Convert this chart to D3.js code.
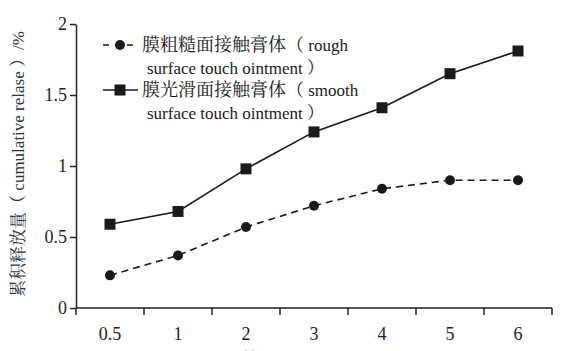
<!DOCTYPE html>
<html>
<head>
<meta charset="utf-8">
<script src="https://cdn.jsdelivr.net/npm/d3@7"></script>
<style>
  body { margin: 0; background: #fff; }
  svg { display: block; }
</style>
</head>
<body>
<svg></svg>
<script>
// categories (time points) and the two series
let categories = ['0.5', '1', '2', '3', '4', '5', '6'];
let roughValues = [0.23, 0.37, 0.57, 0.72, 0.84, 0.90, 0.90];
let smoothValues = [0.59, 0.68, 0.98, 1.24, 1.41, 1.65, 1.81];
let yTicks = [0, 0.5, 1, 1.5, 2];
let legendRough = ['膜粗糙面接触膏体（', ' rough', 'surface touch ointment ）'];
let legendSmooth = ['膜光滑面接触膏体（', ' smooth', 'surface touch ointment ）'];

let width = 568;
let height = 351;
let plotLeft = 76, plotRight = 552, plotTop = 24, plotBottom = 308;

let latin = '"Liberation Serif"';
let cjk = '"Liberation Serif", "Noto Serif CJK SC"';

let svg = d3.select('svg').attr('width', width).attr('height', height);

let xScale = d3.scaleBand().domain(categories).range([plotLeft, plotRight]);
let yScale = d3.scaleLinear().domain([0, 2]).range([plotBottom, plotTop]);

// axes
let xAxis = d3.axisBottom(xScale).tickSize(6).tickFormat('');
let gx = svg.append('g')
    .attr('transform', `translate(0, ${plotBottom})`)
    .call(xAxis);
// ticks sit on band edges, not centres
gx.selectAll('.tick').remove();
gx.attr('font-family', null).attr('font-size', null);
let edges = categories.map(c => xScale(c)).concat([plotRight]);
gx.selectAll('line.edge')
    .data(edges)
    .enter()
    .append('line')
    .attr('x1', d => d).attr('x2', d => d)
    .attr('y1', 0).attr('y2', 7)
    .attr('stroke', '#222').attr('stroke-width', 1.5);
gx.select('.domain').attr('d', `M${plotLeft},0H${plotRight}`).attr('stroke', '#222').attr('stroke-width', 1.5);
gx.selectAll('text.lab')
    .data(categories)
    .enter()
    .append('text')
    .attr('x', d => xScale(d) + xScale.bandwidth() / 2)
    .attr('y', 32)
    .attr('text-anchor', 'middle')
    .attr('fill', '#222')
    .attr('font-family', latin)
    .attr('font-size', 18)
    .text(d => d);

let yAxis = d3.axisLeft(yScale).tickValues(yTicks).tickSize(6).tickSizeOuter(0).tickPadding(3)
    .tickFormat(d => d);
let gy = svg.append('g')
    .attr('transform', `translate(${plotLeft}, 0)`)
    .call(yAxis)
    .attr('font-family', latin)
    .attr('font-size', 18);
gy.select('.domain').attr('stroke', '#222').attr('stroke-width', 1.5);
gy.selectAll('.tick line').attr('stroke', '#222').attr('stroke-width', 1.5);
gy.selectAll('.tick text').attr('fill', '#222');

// y-axis title
svg.append('text')
    .attr('transform', `translate(24, ${(plotTop + plotBottom) / 2 - 2}) rotate(-90)`)
    .attr('text-anchor', 'middle')
    .attr('fill', '#2b3440')
    .attr('font-family', cjk)
    .attr('font-size', 17)
    .text('累积释放量（ cumulative relase ）/%');

// x-axis title, mostly cut off by the frame
svg.append('text')
    .attr('x', 290)
    .attr('y', 364)
    .attr('text-anchor', 'middle')
    .attr('fill', '#222')
    .attr('font-family', cjk)
    .attr('font-size', 16)
    .text('时间（ time ）/h');

let cx = d => xScale(d) + xScale.bandwidth() / 2;

// rough series: dashed line with circles
let roughData = categories.map((c, i) => [c, roughValues[i]]);
let smoothData = categories.map((c, i) => [c, smoothValues[i]]);
let line = d3.line().x(d => cx(d[0])).y(d => yScale(d[1]));

svg.append('path')
    .datum(roughData)
    .attr('d', line)
    .attr('fill', 'none')
    .attr('stroke', '#1a1a1a')
    .attr('stroke-width', 1.6)
    .attr('stroke-dasharray', '7,5');
svg.selectAll('circle.rough')
    .data(roughData)
    .enter()
    .append('circle')
    .attr('cx', d => cx(d[0]))
    .attr('cy', d => yScale(d[1]))
    .attr('r', 5)
    .attr('fill', '#1a1a1a');

// smooth series: solid line with squares
svg.append('path')
    .datum(smoothData)
    .attr('d', line)
    .attr('fill', 'none')
    .attr('stroke', '#1a1a1a')
    .attr('stroke-width', 1.6);
svg.selectAll('rect.smooth')
    .data(smoothData)
    .enter()
    .append('rect')
    .attr('x', d => cx(d[0]) - 5.5)
    .attr('y', d => yScale(d[1]) - 5.5)
    .attr('width', 11)
    .attr('height', 11)
    .attr('fill', '#1a1a1a');

// legend
let legend = svg.append('g');
let drawLegendItem = (y, dashed, lines) => {
    legend.append('line')
        .attr('x1', 103).attr('x2', 138)
        .attr('y1', y).attr('y2', y)
        .attr('stroke', '#1a1a1a')
        .attr('stroke-width', 1.6)
        .attr('stroke-dasharray', dashed ? '6,6' : null);
    if (dashed) {
        legend.append('circle').attr('cx', 120).attr('cy', y).attr('r', 5).attr('fill', '#1a1a1a');
    } else {
        legend.append('rect').attr('x', 114.5).attr('y', y - 5.5).attr('width', 11).attr('height', 11).attr('fill', '#1a1a1a');
    }
    let first = legend.append('text')
        .attr('x', 142).attr('y', y + 6)
        .attr('fill', '#1a1a1a')
        .attr('font-family', cjk);
    first.append('tspan').attr('font-size', 18).text(lines[0]);
    first.append('tspan').attr('font-size', 17).text(lines[1]);
    legend.append('text')
        .attr('x', 147).attr('y', y + 29)
        .attr('fill', '#1a1a1a')
        .attr('font-family', cjk)
        .attr('font-size', 17)
        .text(lines[2]);
};
drawLegendItem(45, true, legendRough);
drawLegendItem(90, false, legendSmooth);
</script>
</body>
</html>
